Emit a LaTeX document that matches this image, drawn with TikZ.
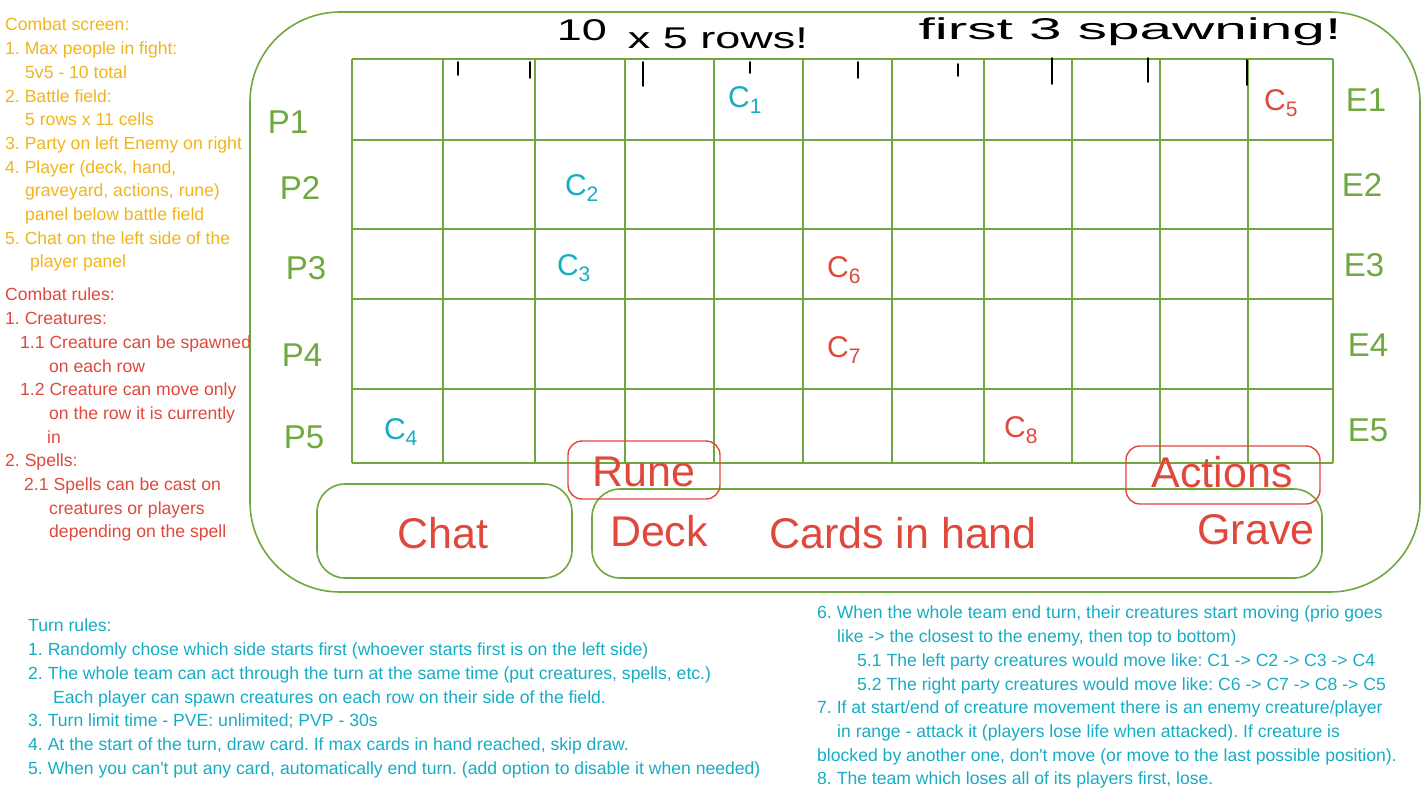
\documentclass[tikz,border=0pt]{standalone}
\usepackage{fontspec}
\setmainfont{Liberation Sans}
\usepackage{xcolor}
\usepackage{tikz}

\definecolor{fieldgreen}{RGB}{112,168,64}
\definecolor{screenorange}{RGB}{241,180,26}
\definecolor{rulered}{RGB}{224,72,60}
\definecolor{turnteal}{RGB}{22,172,196}

\frenchspacing

\begin{document}
\begin{tikzpicture}[x=1pt, y=-1pt,
    field/.style={draw=fieldgreen, line width=1.6pt},
    panel/.style={draw=fieldgreen, line width=1.6pt, rounded corners=28pt},
    redbox/.style={draw=rulered, line width=1.4pt, rounded corners=14pt},
    biglabel/.style={text=rulered, inner sep=0pt, font=\fontsize{43}{43}\selectfont},
    side/.style={text=fieldgreen, inner sep=0pt, font=\fontsize{33}{33}\selectfont},
    creature/.style={inner sep=0pt, font=\fontsize{30}{30}\selectfont},
    scrawl/.style={inner sep=0pt, font=\fontsize{30}{30}\selectfont},
    notes/.style={anchor=north west, inner sep=0pt, align=left, font=\fontsize{17.6}{23.7}\selectfont}]
    \useasboundingbox (0,0) rectangle (1422,800);

    % outer screen frame
    \draw[field, rounded corners=90pt] (250,12) rectangle (1420,592);

    % battle field, 11 cells x 5 rows
    \foreach \x in {352,443,535,625,714,803,892,984,1072,1160,1248,1333}
        \draw[field] (\x,59) -- (\x,463);
    \foreach \y in {59,140,229,299,389,463}
        \draw[field] (352,\y) -- (1333,\y);

    % spawning marks
    \foreach \x/\a/\b in {458/62/75, 530/62/78, 643/62/86, 750/62/73, 858/62/78,
                          958/64/76, 1052/58/84, 1148/58/82, 1247/60/85}
        \draw[line width=1.8pt, line cap=round] (\x,\a) -- (\x,\b);

    \node[scrawl] (ten) at (582,30) {\scalebox{1.5}[1]{10}};
    \node[scrawl] (rows) at (718,38) {\scalebox{1.5}[1]{x 5 rows!}};
    \node[scrawl] (spawn) at (1130,32) {\scalebox{1.95}[1]{first 3 spawning!}};

    % players and enemies
    \foreach \n/\x/\y in {1/288/122, 2/300/188, 3/306/268, 4/302/355, 5/304/437}
        \node[side] (p\n) at (\x,\y) {P\n};
    \foreach \n/\x/\y in {1/1366/100, 2/1362/185, 3/1364/265, 4/1368/345, 5/1368/430}
        \node[side] (e\n) at (\x,\y) {E\n};

    % creatures
    \node[creature, text=turnteal] (c1) at (745,100) {C\textsubscript{1}};
    \node[creature, text=turnteal] (c2) at (582,188) {C\textsubscript{2}};
    \node[creature, text=turnteal] (c3) at (574,268) {C\textsubscript{3}};
    \node[creature, text=turnteal] (c4) at (401,432) {C\textsubscript{4}};
    \node[creature, text=rulered] (c5) at (1281,103) {C\textsubscript{5}};
    \node[creature, text=rulered] (c6) at (844,270) {C\textsubscript{6}};
    \node[creature, text=rulered] (c7) at (844,350) {C\textsubscript{7}};
    \node[creature, text=rulered] (c8) at (1021,430) {C\textsubscript{8}};

    % player panel
    \draw[panel] (317,484) rectangle (572,578);
    \draw[panel] (592,489) rectangle (1322,578);
    \draw[redbox] (568,441) rectangle (720,499);
    \draw[redbox] (1126,446) rectangle (1320,504);

    \node[biglabel] (rune) at (644,472) {Rune};
    \node[biglabel] (actions) at (1222,472) {Actions};
    \node[biglabel] (chat) at (443,533) {Chat};
    \node[biglabel] (deck) at (659,531) {Deck};
    \node[biglabel] (hand) at (903,533) {Cards in hand};
    \node[biglabel] (grave) at (1256,530) {Grave};

    % notes
    \node[notes, text=screenorange] (screen) at (5,18) {Combat screen:\\
        1. Max people in fight:\\
        \hspace*{20pt}5v5 - 10 total\\
        2. Battle field:\\
        \hspace*{20pt}5 rows x 11 cells\\
        3. Party on left Enemy on right\\
        4. Player (deck, hand,\\
        \hspace*{20pt}graveyard, actions, rune)\\
        \hspace*{20pt}panel below battle field\\
        5. Chat on the left side of the\\
        \hspace*{25pt}player panel};

    \node[notes, text=rulered] (rules) at (5,288) {Combat rules:\\
        1. Creatures:\\
        \hspace*{15pt}1.1 Creature can be spawned\\
        \hspace*{44pt}on each row\\
        \hspace*{15pt}1.2 Creature can move only\\
        \hspace*{44pt}on the row it is currently\\
        \hspace*{42pt}in\\
        2. Spells:\\
        \hspace*{19pt}2.1 Spells can be cast on\\
        \hspace*{44pt}creatures or players\\
        \hspace*{44pt}depending on the spell};

    \node[notes, text=turnteal] (turns) at (28,619) {Turn rules:\\
        1. Randomly chose which side starts first (whoever starts first is on the left side)\\
        2. The whole team can act through the turn at the same time (put creatures, spells, etc.)\\
        \hspace*{25pt}Each player can spawn creatures on each row on their side of the field.\\
        3. Turn limit time - PVE: unlimited; PVP - 30s\\
        4. At the start of the turn, draw card. If max cards in hand reached, skip draw.\\
        5. When you can\textquotesingle t put any card, automatically end turn. (add option to disable it when needed)};

    \node[notes, text=turnteal] (moving) at (817,606) {6. When the whole team end turn, their creatures start moving (prio goes\\
        \hspace*{20pt}like -> the closest to the enemy, then top to bottom)\\
        \hspace*{40pt}5.1 The left party creatures would move like: C1 -> C2 -> C3 -> C4\\
        \hspace*{40pt}5.2 The right party creatures would move like: C6 -> C7 -> C8 -> C5\\
        7. If at start/end of creature movement there is an enemy creature/player\\
        \hspace*{20pt}in range - attack it (players lose life when attacked). If creature is\\
        blocked by another one, don\textquotesingle t move (or move to the last possible position).\\
        8. The team which loses all of its players first, lose.};
\end{tikzpicture}
\end{document}
